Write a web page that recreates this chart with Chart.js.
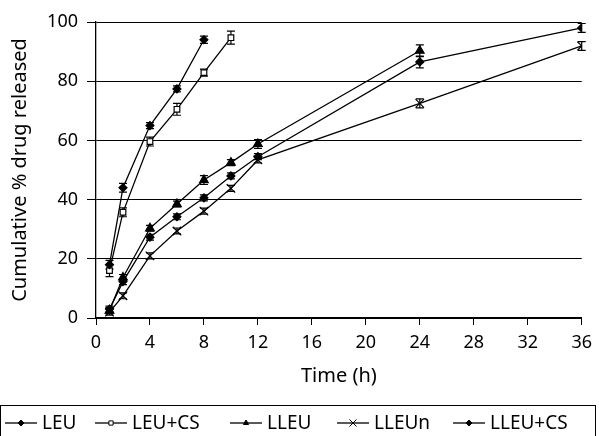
<!DOCTYPE html>
<html>
<head>
<meta charset="utf-8">
<script src="https://cdn.jsdelivr.net/npm/chart.js@4"></script>
<style>
  html, body { margin: 0; padding: 0; background: #fff; }
  #wrap { width: 599px; height: 436px; }
</style>
</head>
<body>
<div id="wrap"><canvas id="chart" width="599" height="436"></canvas></div>
<script>
// time points (h)
const timeLEU = [1, 2, 4, 6, 8];
const timeLEUCS = [1, 2, 4, 6, 8, 10];
const timeLLEU = [1, 2, 4, 6, 8, 10, 12, 24];
const timeLLEUn = [1, 2, 4, 6, 8, 10, 12, 24, 36];
const timeLLEUCS = [1, 2, 4, 6, 8, 10, 12, 24, 36];

// cumulative % drug released
const leu = [18, 44, 65, 77.4, 94];
const leuCS = [16, 35.7, 59.6, 70.5, 82.9, 94.7];
const lleu = [2.5, 13.7, 30.3, 38.5, 46.6, 52.5, 58.8, 90.3];
const lleuN = [2, 7.5, 21, 29.4, 36.1, 43.8, 53.4, 72.5, 91.9];
const lleuCS = [3, 12.3, 27.3, 34.2, 40.6, 48, 54.5, 86.5, 98];

// SD (error bars)
const errLEU = [1.5, 1.5, 1, 1, 1.2];
const errLEUCS = [2, 1.5, 1.5, 2, 1.2, 2.2];
const errLLEU = [1, 1, 1, 1, 1.5, 1, 1.5, 2];
const errLLEUn = [1, 1, 1, 1, 1, 1, 1, 1.5, 1.5];
const errLLEUCS = [1, 1, 1, 1, 1, 1, 1, 2, 1.5];

const xTicks = [0, 4, 8, 12, 16, 20, 24, 28, 32, 36];
const yTicks = [0, 20, 40, 60, 80, 100];
const seriesNames = ['LEU', 'LEU+CS', 'LLEU', 'LLEUn', 'LLEU+CS'];

const FONT = '"Noto Sans", "Open Sans", sans-serif';

function pts(xs, ys) {
    return xs.map((x, i) => ({ x: x, y: ys[i] }));
}

const styles = [
    { pointStyle: 'rectRot', radius: 4, bg: '#000' },
    { pointStyle: 'rect', radius: 4, bg: '#fff' },
    { pointStyle: 'triangle', radius: 5, bg: '#000' },
    { pointStyle: 'crossRot', radius: 6, bg: '#000' },
    { pointStyle: 'rectRot', radius: 4, bg: '#000' }
];

const datas = [pts(timeLEU, leu), pts(timeLEUCS, leuCS), pts(timeLLEU, lleu), pts(timeLLEUn, lleuN), pts(timeLLEUCS, lleuCS)];
const errs = [errLEU, errLEUCS, errLLEU, errLLEUn, errLLEUCS];

const datasets = seriesNames.map((name, i) => ({
    label: name,
    data: datas[i],
    err: errs[i],
    borderColor: '#000',
    borderWidth: 1.3,
    pointStyle: styles[i].pointStyle,
    pointRadius: styles[i].radius,
    pointBackgroundColor: styles[i].bg,
    pointBorderColor: '#000',
    pointBorderWidth: 1.2,
    tension: 0
}));

// error bars
const errorBars = {
    id: 'errorBars',
    beforeDatasetsDraw(chart) {
        const ctx = chart.ctx;
        const ys = chart.scales.y;
        ctx.save();
        ctx.strokeStyle = '#000';
        ctx.lineWidth = 1.2;
        chart.data.datasets.forEach((ds, di) => {
            const meta = chart.getDatasetMeta(di);
            meta.data.forEach((pt, j) => {
                const v = ds.data[j].y, e = ds.err[j];
                const top = ys.getPixelForValue(v + e);
                const bot = ys.getPixelForValue(v - e);
                ctx.beginPath();
                ctx.moveTo(pt.x, top); ctx.lineTo(pt.x, bot);
                ctx.moveTo(pt.x - 4, top); ctx.lineTo(pt.x + 4, top);
                ctx.moveTo(pt.x - 4, bot); ctx.lineTo(pt.x + 4, bot);
                ctx.stroke();
            });
        });
        ctx.restore();
    }
};

// boxed legend, line + marker samples
const legendX = [5, 95, 230, 337, 453];
const boxLegend = {
    id: 'boxLegend',
    afterDraw(chart) {
        const ctx = chart.ctx;
        const ly = 423;
        ctx.save();
        ctx.strokeStyle = '#000';
        ctx.lineWidth = 1;
        ctx.strokeRect(0.5, 405.5, 595, 40);
        chart.data.datasets.forEach((ds, i) => {
            const x0 = legendX[i];
            ctx.strokeStyle = '#000';
            ctx.lineWidth = 1.3;
            ctx.beginPath();
            ctx.moveTo(x0, ly); ctx.lineTo(x0 + 32, ly);
            ctx.stroke();
            ctx.fillStyle = ds.pointBackgroundColor;
            ctx.lineWidth = 1;
            const r = i === 3 ? 5 : 3;
            Chart.helpers.drawPoint(ctx, { pointStyle: ds.pointStyle, radius: r, borderWidth: 1 }, x0 + 16, ly);
            ctx.fillStyle = '#000';
            ctx.font = '19px ' + FONT;
            ctx.textBaseline = 'middle';
            ctx.fillText(ds.label, x0 + 37, ly + 1);
        });
        ctx.restore();
    }
};

new Chart(document.getElementById('chart'), {
    type: 'line',
    data: { datasets: datasets },
    plugins: [errorBars, boxLegend],
    options: {
        responsive: false,
        animation: false,
        layout: { padding: { top: 22, right: 14, bottom: 48, left: 0 } },
        plugins: {
            legend: { display: false },
            tooltip: { enabled: false }
        },
        scales: {
            x: {
                type: 'linear',
                min: 0, max: 36,
                afterBuildTicks: (s) => { s.ticks = xTicks.map(v => ({ value: v })); },
                afterFit: (s) => { s.height = 70; },
                grid: { drawOnChartArea: false, color: '#000', tickLength: 7, lineWidth: 1 },
                border: { color: '#000', width: 1.3 },
                ticks: { color: '#000', font: { family: FONT, size: 18 }, padding: 7, maxRotation: 0 },
                title: { display: true, text: 'Time (h)', color: '#000', font: { family: FONT, size: 20 }, padding: 0 }
            },
            y: {
                min: 0, max: 100,
                afterBuildTicks: (s) => { s.ticks = yTicks.map(v => ({ value: v })); },
                afterFit: (s) => { s.width = 96; },
                grid: { color: '#000', tickLength: 9, lineWidth: 1 },
                border: { color: '#000', width: 1.3 },
                ticks: { color: '#000', font: { family: FONT, size: 18 }, padding: 9 },
                title: { display: true, text: 'Cumulative % drug released', color: '#000', font: { family: FONT, size: 20 }, padding: { top: 8, bottom: 0 } }
            }
        }
    }
});
</script>
</body>
</html>
